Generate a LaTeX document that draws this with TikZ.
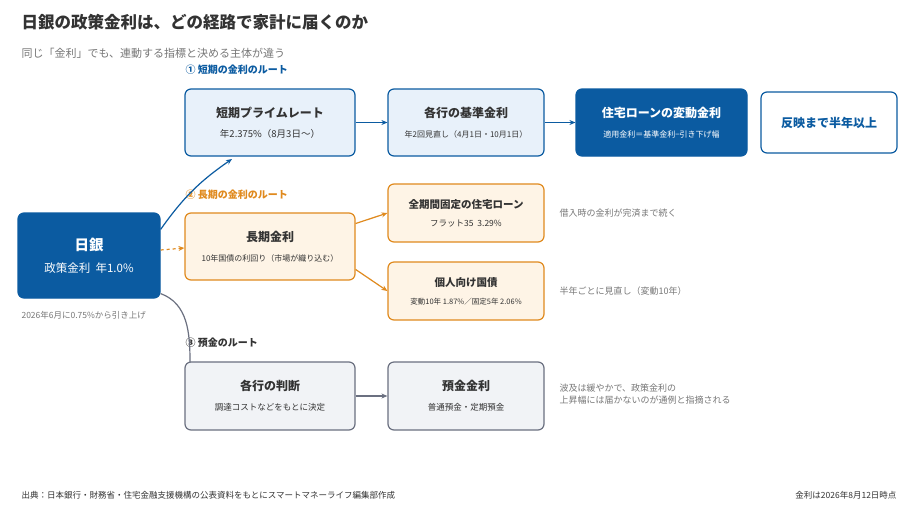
\documentclass[tikz,border=0pt]{standalone}
\usepackage{fontspec}
\setmainfont{Noto Sans CJK JP}
\usetikzlibrary{positioning,arrows.meta}
\definecolor{boj}{HTML}{0B5BA1}
\definecolor{bojlight}{HTML}{E8F1FA}
\definecolor{longc}{HTML}{E08A1E}
\definecolor{longlight}{HTML}{FEF4E6}
\definecolor{depc}{HTML}{6B7080}
\definecolor{deplight}{HTML}{F1F3F6}
\definecolor{ink}{HTML}{333333}
\definecolor{note}{HTML}{777777}
\begin{document}
\begin{tikzpicture}
    [ x = 1pt, y = -1pt
    , box/.style =
      { draw, rounded corners = 6pt, line width = 1.2pt, align = center, text = ink }
    , short/.style =
      { box, draw = boj, fill = bojlight }
    , long/.style =
      { box, draw = longc, fill = longlight }
    , dep/.style =
      { box, draw = depc, fill = deplight }
    , head/.style =
      { font = \bfseries\fontsize{12}{14}\selectfont }
    , side/.style =
      { anchor = west, align = left, text = note, font = \fontsize{9}{11.5}\selectfont }
    , route/.style =
      { anchor = west, font = \bfseries\fontsize{10}{12}\selectfont }
    , link/.style =
      { line width = 1.2pt, -{Stealth[length=6pt,width=5pt]} }
    ]
    \useasboundingbox (0,0) rectangle (920,515);
    \fill [white] (0,0) rectangle (920,515);

    \node [anchor = west, text = ink, font = \bfseries\fontsize{16.5}{20}\selectfont] (title) at (18,22) {日銀の政策金利は、どの経路で家計に届くのか};
    \node [anchor = west, text = note, font = \fontsize{11}{13}\selectfont] (subtitle) at (18,53) {同じ「金利」でも、連動する指標と決める主体が違う};

    \node [box, draw = boj, fill = boj, text = white, minimum width = 142pt, minimum height = 85pt] (boj) at (89,255.5)
      {{\bfseries\fontsize{14.5}{17}\selectfont 日銀}\\[10pt]{\fontsize{11.5}{13}\selectfont 政策金利\ \ 年1.0\%}};
    \node [anchor = west, text = note, font = \fontsize{8.5}{10}\selectfont] (bojnote) at (18,315) {2026年6月に0.75\%から引き上げ};

    % short route
    \node [route, text = boj] (r1) at (182,70) {① 短期の金利のルート};
    \node [short, minimum width = 170pt, minimum height = 67pt] (prime) at (270,122.5)
      {\textbf{\fontsize{12}{14}\selectfont 短期プライムレート}\\[8pt]{\fontsize{9.5}{11}\selectfont 年2.375\%（8月3日〜）}};
    \node [short, minimum width = 156pt, minimum height = 67pt] (base) at (466,122.5)
      {\textbf{\fontsize{12}{14}\selectfont 各行の基準金利}\\[8pt]{\fontsize{8}{10}\selectfont 年2回見直し（4月1日・10月1日）}};
    \node [box, draw = boj, fill = boj, text = white, minimum width = 171pt, minimum height = 67pt] (float) at (661.5,122.5)
      {\textbf{\fontsize{12}{14}\selectfont 住宅ローンの変動金利}\\[8pt]{\fontsize{8}{10}\selectfont 適用金利＝基準金利−引き下げ幅}};
    \node [box, draw = boj, fill = white, text = boj, minimum width = 136pt, minimum height = 61pt, head] (lag) at (829,122.5) {反映まで半年以上};

    % long route
    \node [route, text = longc] (r2) at (182,195) {② 長期の金利のルート};
    \node [long, minimum width = 170pt, minimum height = 67pt] (jgb) at (270,246.5)
      {\textbf{\fontsize{12}{14}\selectfont 長期金利}\\[8pt]{\fontsize{8}{10}\selectfont 10年国債の利回り（市場が織り込む）}};
    \node [long, minimum width = 156pt, minimum height = 58pt] (flat) at (466,213)
      {\textbf{\fontsize{10.5}{12}\selectfont 全期間固定の住宅ローン}\\[6pt]{\fontsize{8.5}{10}\selectfont フラット35\ \ 3.29\%}};
    \node [long, minimum width = 156pt, minimum height = 58pt] (kojin) at (466,291)
      {\textbf{\fontsize{10.5}{12}\selectfont 個人向け国債}\\[6pt]{\fontsize{7.5}{9}\selectfont 変動10年 1.87\%／固定5年 2.06\%}};
    \node [side] (flatnote) at (556,213) {借入時の金利が完済まで続く};
    \node [side] (kojinnote) at (556,291) {半年ごとに見直し（変動10年）};

    % deposit route
    \node [route, text = ink] (r3) at (182,343) {③ 預金のルート};
    \node [dep, minimum width = 170pt, minimum height = 68pt] (judge) at (270,396)
      {\textbf{\fontsize{12}{14}\selectfont 各行の判断}\\[8pt]{\fontsize{8.5}{10}\selectfont 調達コストなどをもとに決定}};
    \node [dep, minimum width = 156pt, minimum height = 68pt] (deposit) at (466,396)
      {\textbf{\fontsize{12}{14}\selectfont 預金金利}\\[8pt]{\fontsize{8.5}{10}\selectfont 普通預金・定期預金}};
    \node [side] (depnote) at (556,394) {波及は緩やかで、政策金利の\\上昇幅には届かないのが通例と指摘される};

    \node [anchor = west, text = ink, font = \fontsize{8.5}{10}\selectfont] (source) at (18,495) {出典：日本銀行・財務省・住宅金融支援機構の公表資料をもとにスマートマネーライフ編集部作成};
    \node [anchor = east, text = ink, font = \fontsize{8.5}{10}\selectfont] (asof) at (900,495) {金利は2026年8月12日時点};

    \draw [link, boj] (boj.20) to [bend left=10] (232,159);
    \draw [link, boj] (prime) -- (base);
    \draw [link, boj] (base) -- (float);
    \draw [link, longc, dashed] (boj.east |- 0,250) -- (jgb.west |- 0,248);
    \draw [link, longc] (jgb.15) -- (flat.west);
    \draw [link, longc] (jgb.-15) -- (kojin.west);
    \draw [line width = 1.2pt, depc] (boj.-28) to [out=-20, in=90] (190,362);
    \draw [link, depc] (judge) -- (deposit);
\end{tikzpicture}
\end{document}
